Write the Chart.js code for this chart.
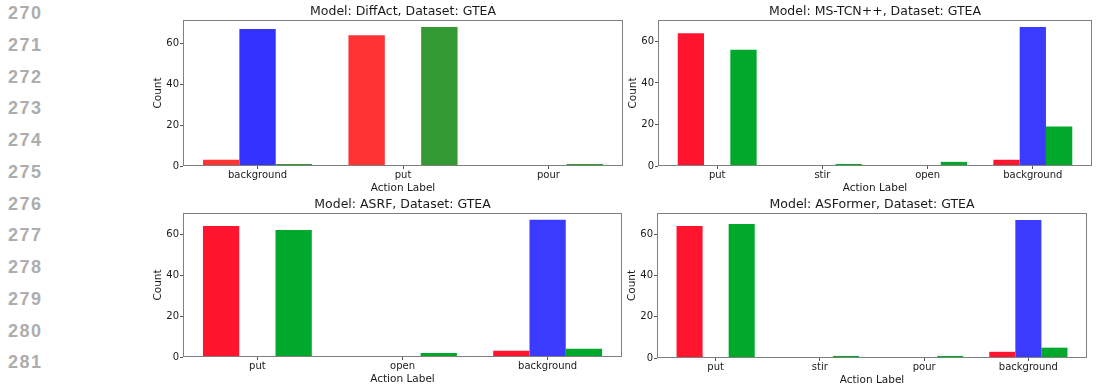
<!DOCTYPE html>
<html>
<head>
<meta charset="utf-8">
<script src="https://cdn.jsdelivr.net/npm/chart.js@4"></script>
<style>
body { margin: 0; width: 1098px; height: 387px; overflow: hidden; background: #fff; position: relative; }
canvas { position: absolute; }
.ln { position: absolute; left: 8px; font: bold 18px "Liberation Sans", Arial, sans-serif; color: #adadad; letter-spacing: 1.5px; line-height: 20px; }
</style>
</head>
<body>
<div id="lines"></div>
<canvas id="diffactChart"></canvas>
<canvas id="mstcnChart"></canvas>
<canvas id="asrfChart"></canvas>
<canvas id="asformerChart"></canvas>
<script>
// values
const diffactLabels = ['background', 'put', 'pour'];
const diffactRed = [3, 64, 0];
const diffactBlue = [67, 0, 0];
const diffactGreen = [1, 68, 1];

const mstcnLabels = ['put', 'stir', 'open', 'background'];
const mstcnRed = [64, 0, 0, 3];
const mstcnBlue = [0, 0, 0, 67];
const mstcnGreen = [56, 1, 2, 19];

const asrfLabels = ['put', 'open', 'background'];
const asrfRed = [64, 0, 3];
const asrfBlue = [0, 0, 67];
const asrfGreen = [62, 2, 4];

const asformerLabels = ['put', 'stir', 'pour', 'background'];
const asformerRed = [64, 0, 0, 3];
const asformerBlue = [0, 0, 0, 67];
const asformerGreen = [65, 1, 1, 5];

const yTicks = [0, 20, 40, 60];
const lineNumbers = [270, 271, 272, 273, 274, 275, 276, 277, 278, 279, 280, 281, 282];

const diffactColors = ['#ff3333', '#3333ff', '#339933'];
const otherColors = ['#ff152e', '#3b3bff', '#00a82b'];

Chart.defaults.font.family = '"DejaVu Sans", sans-serif';
Chart.defaults.color = '#1a1a1a';

// line numbers of the page margin
const lines = document.getElementById('lines');
lineNumbers.forEach((n, i) => {
    const d = document.createElement('div');
    d.className = 'ln';
    d.textContent = n;
    d.style.top = (12.5 + i * 31.75 - 9.5) + 'px';
    lines.appendChild(d);
});

const frame = {
    id: 'frame',
    afterDatasetsDraw(chart) {
        const a = chart.chartArea;
        const ctx = chart.ctx;
        ctx.save();
        ctx.strokeStyle = '#808080';
        ctx.lineWidth = 1;
        ctx.strokeRect(Math.round(a.left) + 0.5, Math.round(a.top) + 0.5,
            Math.round(a.right - a.left) - 1, Math.round(a.bottom - a.top) - 1);
        ctx.restore();
    }
};

function createBarChart(id, box, area, title, labels, red, blue, green, colors) {
    const canvas = document.getElementById(id);
    canvas.width = box.right - box.left;
    canvas.height = box.bottom - box.top;
    canvas.style.left = box.left + 'px';
    canvas.style.top = box.top + 'px';

    const n = labels.length;
    const margin = 0.05 * (n - 1 + 0.75);
    const maxVal = Math.max(...red, ...blue, ...green);
    const toPoints = arr => arr.map((v, i) => ({ x: i, y: v }));
    const tickGrid = { offset: false, drawOnChartArea: false, drawTicks: true, tickLength: 3, color: '#555' };

    new Chart(canvas.getContext('2d'), {
        type: 'bar',
        data: {
            datasets: [
                { label: 'red', data: toPoints(red), backgroundColor: colors[0], borderWidth: 0 },
                { label: 'blue', data: toPoints(blue), backgroundColor: colors[1], borderWidth: 0 },
                { label: 'green', data: toPoints(green), backgroundColor: colors[2], borderWidth: 0 }
            ]
        },
        options: {
            responsive: false,
            animation: false,
            categoryPercentage: 0.75,
            barPercentage: 1.0,
            layout: {
                padding: {
                    left: area.left - 32 - box.left,
                    right: box.right - area.right,
                    top: 0,
                    bottom: box.bottom - area.bottom - 26
                }
            },
            plugins: {
                legend: { display: false },
                tooltip: { enabled: false },
                title: {
                    display: true,
                    text: title,
                    fullSize: false,
                    color: '#1a1a1a',
                    font: { size: 12.5, weight: 'normal', lineHeight: 1.2 },
                    padding: { top: 4.5, bottom: 0.5 }
                }
            },
            scales: {
                x: {
                    type: 'linear',
                    min: -0.375 - margin,
                    max: n - 1 + 0.375 + margin,
                    offset: false,
                    afterBuildTicks: s => { s.ticks = labels.map((l, i) => ({ value: i })); },
                    afterFit: s => { s.height = 26; },
                    ticks: { autoSkip: false, maxRotation: 0, padding: 0, font: { size: 10 }, callback: v => labels[v] },
                    grid: tickGrid,
                    border: { display: false },
                    title: { display: true, text: 'Action Label', font: { size: 10.5, lineHeight: 1 }, padding: { top: 0, bottom: -2 } }
                },
                y: {
                    min: 0,
                    max: maxVal * 1.05,
                    afterBuildTicks: s => { s.ticks = yTicks.map(v => ({ value: v })); },
                    afterFit: s => { s.width = 32; },
                    ticks: { padding: 1, font: { size: 10 } },
                    grid: tickGrid,
                    border: { display: false },
                    title: { display: true, text: 'Count', font: { size: 10.5, lineHeight: 1.2 }, padding: { top: 1, bottom: 0 } }
                }
            }
        },
        plugins: [frame]
    });
}

createBarChart('diffactChart', { left: 140, top: 0, right: 630, bottom: 193 },
    { left: 183, top: 20, right: 623, bottom: 166 },
    'Model: DiffAct, Dataset: GTEA', diffactLabels, diffactRed, diffactBlue, diffactGreen, diffactColors);
createBarChart('mstcnChart', { left: 620, top: 0, right: 1098, bottom: 193 },
    { left: 658, top: 20, right: 1092, bottom: 166 },
    'Model: MS-TCN++, Dataset: GTEA', mstcnLabels, mstcnRed, mstcnBlue, mstcnGreen, otherColors);
createBarChart('asrfChart', { left: 140, top: 193, right: 630, bottom: 387 },
    { left: 183, top: 213, right: 622, bottom: 357 },
    'Model: ASRF, Dataset: GTEA', asrfLabels, asrfRed, asrfBlue, asrfGreen, otherColors);
createBarChart('asformerChart', { left: 620, top: 193, right: 1098, bottom: 387 },
    { left: 657, top: 213, right: 1087, bottom: 358 },
    'Model: ASFormer, Dataset: GTEA', asformerLabels, asformerRed, asformerBlue, asformerGreen, otherColors);
</script>
</body>
</html>
